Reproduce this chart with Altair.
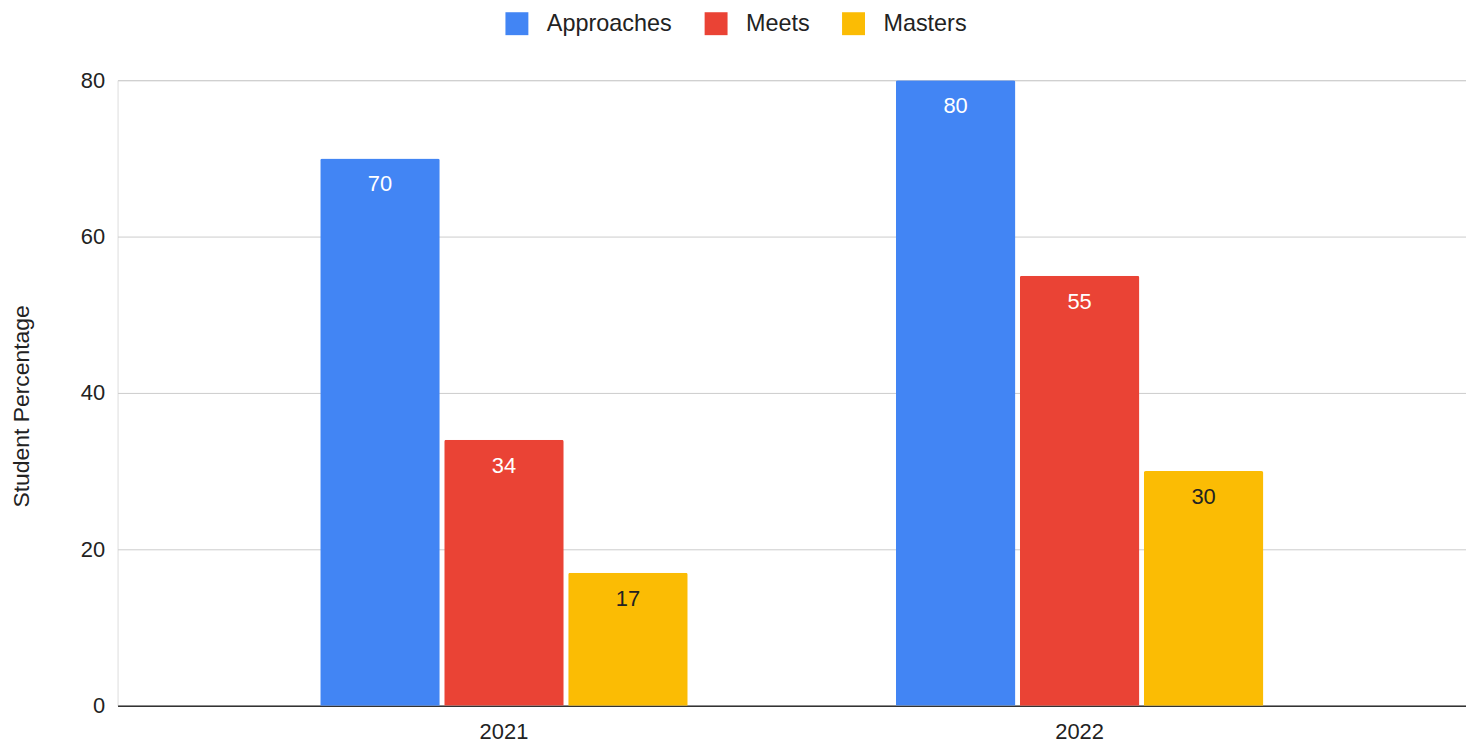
import altair as alt
import pandas as pd

years = ["2021", "2022"]
series = ["Approaches", "Meets", "Masters"]
approaches = [70, 80]
meets = [34, 55]
masters = [17, 30]
y_ticks = [0, 20, 40, 60, 80]

rows = []
for i, yr in enumerate(years):
    for s, vals in zip(series, [approaches, meets, masters]):
        rows.append({"year": yr, "series": s, "value": vals[i]})
df = pd.DataFrame(rows)

colors = ["#4285F4", "#EA4335", "#FBBC04"]
FONT = "Liberation Sans, Arial, sans-serif"
TXT = "#222222"

base = alt.Chart(df).encode(
    x=alt.X(
        "year:N",
        sort=years,
        scale=alt.Scale(paddingInner=0.3616, paddingOuter=0.3521),
        axis=alt.Axis(
            title=None, labelAngle=0, labelFontSize=22, labelPadding=16,
            labelColor=TXT, labelFont=FONT, domainColor="#333333",
            domainWidth=1.5, ticks=False, grid=False,
        ),
    ),
    xOffset=alt.XOffset(
        "series:N", sort=series,
        scale=alt.Scale(paddingInner=0.036, paddingOuter=0),
    ),
    y=alt.Y(
        "value:Q",
        scale=alt.Scale(domain=[0, 80], nice=False),
        axis=alt.Axis(
            values=y_ticks, title="Student Percentage", titleFont=FONT,
            titleFontSize=23, titleFontWeight="normal", titleColor=TXT,
            titleAngle=270, titleX=-107, titleY=327, titleAlign="center",
            titleBaseline="top",
            labelFontSize=22, labelFont=FONT, labelColor=TXT, labelPadding=13,
            ticks=False, domain=False, gridColor="#cccccc", gridWidth=1,
        ),
    ),
)

bars = base.mark_bar(cornerRadiusTopLeft=2, cornerRadiusTopRight=2).encode(
    color=alt.Color(
        "series:N",
        sort=series,
        scale=alt.Scale(domain=series, range=colors),
        legend=alt.Legend(
            title=None, orient="none", legendX=389, legendY=-69,
            direction="horizontal", symbolType="square", symbolSize=530,
            symbolStrokeWidth=0, symbolOpacity=1, labelFontSize=23.5,
            labelFont=FONT, labelColor=TXT, labelOffset=18,
            columnPadding=32, padding=0,
        ),
    )
)

labels = base.mark_text(baseline="middle", dy=26, fontSize=22, font=FONT).encode(
    text="value:Q",
    color=alt.condition("datum.series == 'Masters'", alt.value(TXT), alt.value("white")),
)

chart = (
    alt.layer(bars, labels)
    .properties(
        width=1354, height=628,
        autosize=alt.AutoSizeParams(type="none"),
        padding={"left": 110, "top": 71, "right": 0, "bottom": 38},
    )
    .configure_view(stroke=None)
    .configure(background="white")
)

chart.save("out.html", embed_options={"renderer": "svg", "actions": False})
